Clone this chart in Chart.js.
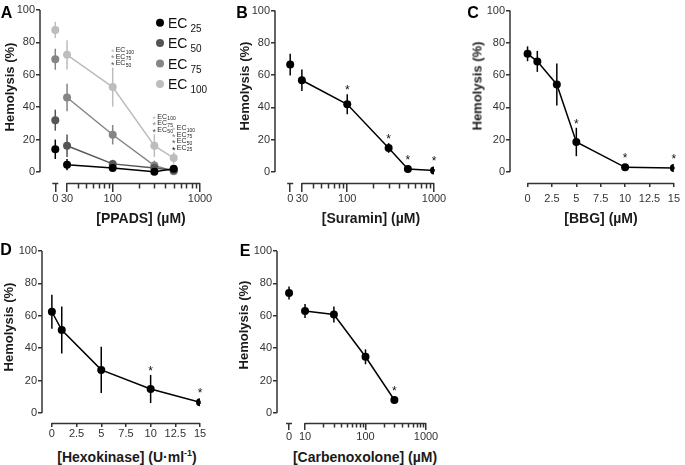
<!DOCTYPE html>
<html><head><meta charset="utf-8">
<script src="https://cdn.jsdelivr.net/npm/chart.js@4.4.0/dist/chart.umd.min.js"></script>
<style>
body{margin:0;background:#fff;}
#fig{position:relative;width:685px;height:465px;overflow:hidden;background:#fff;font-family:'Liberation Sans',Arial,Helvetica,sans-serif;color:#1a1a1a;}
canvas{position:absolute;}
.ytitle{position:absolute;font-weight:bold;font-size:13px;white-space:nowrap;transform:translate(-50%,-50%) rotate(-90deg);}
.xtitle{position:absolute;font-weight:bold;font-size:14px;white-space:nowrap;transform:translate(-50%,-50%);}
.letter{position:absolute;font-weight:bold;font-size:16px;transform:translate(-50%,-50%);color:#000;}
sup{font-size:9px;vertical-align:6px;line-height:0;}
</style></head>
<body><div id="fig">
<canvas id="cA" width="225" height="205" style="left:0;top:0"></canvas>
<canvas id="cB" width="230" height="205" style="left:225px;top:0"></canvas>
<canvas id="cC" width="230" height="205" style="left:455px;top:0"></canvas>
<canvas id="cD" width="225" height="210" style="left:0;top:230px"></canvas>
<canvas id="cE" width="230" height="210" style="left:225px;top:230px"></canvas>

<div class="letter" style="left:6.5px;top:12.5px">A</div>
<div class="letter" style="left:242px;top:12.5px">B</div>
<div class="letter" style="left:473px;top:12.5px">C</div>
<div class="letter" style="left:6px;top:250px">D</div>
<div class="letter" style="left:245px;top:251px">E</div>

<div class="ytitle" style="left:9px;top:87px">Hemolysis (%)</div>
<div class="ytitle" style="left:244px;top:86px">Hemolysis (%)</div>
<div class="ytitle" style="left:477px;top:86px">Hemolysis (%)</div>
<div class="ytitle" style="left:8px;top:327px">Hemolysis (%)</div>
<div class="ytitle" style="left:243px;top:325px">Hemolysis (%)</div>

<div class="xtitle" style="left:141px;top:218px">[PPADS] (µM)</div>
<div class="xtitle" style="left:371px;top:218px">[Suramin] (µM)</div>
<div class="xtitle" style="left:601px;top:218px">[BBG] (µM)</div>
<div class="xtitle" style="left:127px;top:457px">[Hexokinase] (U·ml<sup>-1</sup>)</div>
<div class="xtitle" style="left:365px;top:457px">[Carbenoxolone] (µM)</div>
</div>
<script>
// ---------------- DATA ----------------
const yTickVals = [0, 20, 40, 60, 80, 100];

// A: PPADS
const ppadsConc     = [0, 30, 100, 300, 500];
const ppadsEC25     = [14, 4.5, 2.5, 0.2, 2];
const ppadsEC25Err  = [6, 3.5, 1.5, 1, 1];
const ppadsEC50     = [32, 16.2, 5, 2.5, 1];
const ppadsEC50Err  = [6.5, 7, 2.5, 1.5, 1];
const ppadsEC75     = [69.6, 46, 23, 4, 0.5];
const ppadsEC75Err  = [6.5, 8.5, 6, 3, 1];
const ppadsEC100    = [87.7, 72.3, 52.4, 16.2, 8.6];
const ppadsEC100Err = [5, 9, 12, 7, 3.5];
const ppadsSeries   = ['25', '50', '75', '100'];
const ppadsSigGroups = [
  { conc: 100, series: ['50', '75', '100'] },
  { conc: 300, series: ['50', '75', '100'] },
  { conc: 500, series: ['25', '50', '75', '100'] }
];
const ppadsTicks = [0, 30, 100, 1000];

// B: Suramin
const suraminConc = [0, 30, 100, 300, 500, 1000];
const suraminHemo = [66.5, 56.8, 41.9, 14.9, 1.9, 1.0];
const suraminErr  = [6.7, 6.7, 6.2, 3, 1, 0.8];
const suraminSig  = [false, false, true, true, true, true];
const suraminTicks = [0, 30, 100, 1000];

// C: BBG
const bbgConc = [0, 1, 3, 5, 10, 15];
const bbgHemo = [73.2, 68.5, 54.2, 18.6, 2.9, 2.5];
const bbgErr  = [4.6, 6.5, 13, 8.8, 0.8, 0.8];
const bbgSig  = [false, false, false, true, true, true];
const bbgTicks = [0, 2.5, 5, 7.5, 10, 12.5, 15];

// D: Hexokinase
const hexoConc = [0, 1, 5, 10, 15];
const hexoHemo = [62.5, 51.2, 26.6, 14.8, 6.6];
const hexoErr  = [10.5, 14.5, 14.3, 8.7, 1];
const hexoSig  = [false, false, false, true, true];
const hexoTicks = [0, 2.5, 5, 7.5, 10, 12.5, 15];

// E: Carbenoxolone
const cbxConc = [0, 10, 30, 100, 300];
const cbxHemo = [74.1, 63, 60.8, 34.7, 8];
const cbxErr  = [4, 4.3, 5, 4.6, 1.5];
const cbxSig  = [false, false, false, false, true];
const cbxTicks = [0, 10, 100, 1000];

// ---------------- STYLE / HELPERS ----------------
const FONT = "'Liberation Sans', Arial, Helvetica, sans-serif";
const AXIS = '#333';
const ecColors = { '25': '#000000', '50': '#555555', '75': '#858585', '100': '#bdbdbd' };

function makeY(width, ymin) {
  return {
    type: 'linear', min: ymin, max: 100,
    afterBuildTicks: s => { s.ticks = yTickVals.map(v => ({ value: v })); },
    afterFit: s => { s.width = width; },
    ticks: { font: { family: FONT, size: 11 }, color: AXIS, padding: 1 },
    grid: { display: true, drawOnChartArea: false, drawTicks: true, tickLength: 4, color: AXIS, lineWidth: 1.5 },
    border: { display: false }
  };
}
function makeLogX(min, zeroPos, tickVals, height, tickLen, pad) {
  return {
    type: 'logarithmic', min: min, max: 1000,
    afterBuildTicks: s => { s.ticks = tickVals.map(v => ({ value: v === 0 ? zeroPos : v })); },
    afterFit: s => { s.height = height; },
    ticks: { font: { family: FONT, size: 11 }, color: AXIS, padding: pad, autoSkip: false, maxRotation: 0,
      callback: v => (v === zeroPos ? '0' : String(v)) },
    grid: { display: true, drawOnChartArea: false, drawTicks: true, tickLength: tickLen, color: AXIS, lineWidth: 1.5 },
    border: { display: false }
  };
}
function makeLinX(min, max, tickVals, height, tickLen, pad) {
  return {
    type: 'linear', min: min, max: max,
    afterBuildTicks: s => { s.ticks = tickVals.map(v => ({ value: v })); },
    afterFit: s => { s.height = height; },
    ticks: { font: { family: FONT, size: 11 }, color: AXIS, padding: pad, autoSkip: false, maxRotation: 0,
      callback: v => String(v) },
    grid: { display: true, drawOnChartArea: false, drawTicks: true, tickLength: tickLen, color: AXIS, lineWidth: 1.5 },
    border: { display: false }
  };
}
function series(conc, vals, errs, color, zeroPos, connectZero) {
  return {
    data: conc.map((c, i) => ({ x: (c === 0 && zeroPos) ? zeroPos : c, y: vals[i] })),
    errors: errs,
    borderColor: color, backgroundColor: color,
    pointBackgroundColor: color, pointBorderColor: color,
    pointRadius: 4, pointBorderWidth: 0, pointHoverRadius: 4, borderWidth: 1.5,
    tension: 0, fill: false,
    segment: connectZero ? {} : { borderColor: ctx => (ctx.p0DataIndex === 0 ? 'rgba(0,0,0,0)' : undefined) }
  };
}
function minorLog(start, end, majors) {
  const out = [];
  [1, 10, 100].forEach(d => { for (let k = 2; k <= 9; k++) { const v = k * d; if (v > start && v < end && !majors.includes(v)) out.push(v); } });
  return out;
}
function star(ctx, x, cy, size, color) {
  ctx.save();
  ctx.fillStyle = color; ctx.font = size + 'px ' + FONT;
  ctx.textAlign = 'center'; ctx.textBaseline = 'alphabetic';
  ctx.fillText('*', x, cy + size * 0.57);
  ctx.restore();
}
function ecText(ctx, x, baseY, sub, big, small, gap, drop, color) {
  ctx.save();
  ctx.fillStyle = color; ctx.textAlign = 'left'; ctx.textBaseline = 'alphabetic';
  ctx.font = big + 'px ' + FONT;
  ctx.fillText('EC', x, baseY);
  const w = ctx.measureText('EC').width;
  ctx.font = small + 'px ' + FONT;
  ctx.fillText(sub, x + w + gap, baseY + drop);
  ctx.restore();
}

function makeDecor(cfg) {
  return {
    id: 'decor',
    beforeDatasetsDraw(chart) {
      const ctx = chart.ctx, ys = chart.scales.y;
      chart.data.datasets.forEach((ds, di) => {
        const meta = chart.getDatasetMeta(di);
        ctx.save(); ctx.strokeStyle = ds.borderColor; ctx.lineWidth = 1.5;
        meta.data.forEach((pt, j) => {
          const v = ds.data[j].y, e = ds.errors[j];
          ctx.beginPath();
          ctx.moveTo(pt.x, ys.getPixelForValue(v + e));
          ctx.lineTo(pt.x, ys.getPixelForValue(Math.max(v - e, ys.min)));
          ctx.stroke();
        });
        ctx.restore();
      });
    },
    afterDraw(chart) {
      const ctx = chart.ctx, xs = chart.scales.x, ys = chart.scales.y, ca = chart.chartArea;
      ctx.save();
      ctx.strokeStyle = AXIS; ctx.lineWidth = 1.5; ctx.lineCap = 'butt';
      // y axis line (0..100)
      ctx.beginPath(); ctx.moveTo(ca.left, ys.getPixelForValue(0)); ctx.lineTo(ca.left, ys.getPixelForValue(100)); ctx.stroke();
      // x axis line
      const yb = Math.round(ca.bottom) + 0.5;
      ctx.beginPath(); ctx.moveTo(xs.getPixelForValue(cfg.axisStart), yb); ctx.lineTo(xs.getPixelForValue(cfg.axisEnd), yb); ctx.stroke();
      if (cfg.zeroPos) {
        const zx = xs.getPixelForValue(cfg.zeroPos);
        ctx.beginPath(); ctx.moveTo(zx - 3, yb); ctx.lineTo(zx + 3, yb); ctx.stroke();
      }
      (cfg.minor || []).forEach(v => {
        const px = Math.round(xs.getPixelForValue(v)) + 0.5;
        ctx.beginPath(); ctx.moveTo(px, yb); ctx.lineTo(px, yb + cfg.minorLen); ctx.stroke();
      });
      ctx.restore();

      // significance asterisks (single-series panels)
      if (cfg.sig) {
        const ds = chart.data.datasets[0], meta = chart.getDatasetMeta(0);
        cfg.sig.forEach((s, j) => {
          if (!s) return;
          const pt = meta.data[j];
          const errTop = ys.getPixelForValue(ds.data[j].y + ds.errors[j]);
          const cy = Math.min(errTop, pt.y - 5) - 7;
          star(ctx, pt.x, cy, 12, '#111');
        });
      }
      // PPADS group labels
      if (cfg.groups) {
        cfg.groups.forEach(g => {
          const xp = xs.getPixelForValue(g.conc);
          let top = Infinity;
          chart.data.datasets.forEach(ds => {
            ds.data.forEach((d, j) => { if (d.x === g.conc) top = Math.min(top, ys.getPixelForValue(d.y + ds.errors[j])); });
          });
          g.series.forEach((sname, k) => {
            const cy = top - 5 - k * 6.5;
            star(ctx, xp, cy, 9, ecColors[sname]);
            ecText(ctx, xp + 3, cy + 2.5, sname, 7, 5, 0.3, 1.5, '#222');
          });
        });
      }
      // PPADS legend
      if (cfg.legend) {
        cfg.legend.forEach((sname, k) => {
          const lx = ca.right - 40, ly = ca.top + 12.7 + k * 20.4;
          ctx.save(); ctx.fillStyle = ecColors[sname];
          ctx.beginPath(); ctx.arc(lx, ly, 4, 0, Math.PI * 2); ctx.fill(); ctx.restore();
          ecText(ctx, lx + 8, ly + 5.3, sname, 14, 10, 3, 4, '#111');
        });
      }
    }
  };
}

function baseOptions(pad, xScale, yScale) {
  return {
    responsive: false, animation: false, devicePixelRatio: 1,
    layout: { padding: pad, autoPadding: false },
    plugins: { legend: { display: false }, tooltip: { enabled: false } },
    events: [],
    scales: { x: xScale, y: yScale }
  };
}

// ---------------- PANEL A ----------------
const zeroA = 22;
new Chart(document.getElementById('cA'), {
  type: 'line',
  data: { datasets: [
    series(ppadsConc, ppadsEC25, ppadsEC25Err, ecColors['25'], zeroA, false),
    series(ppadsConc, ppadsEC50, ppadsEC50Err, ecColors['50'], zeroA, false),
    series(ppadsConc, ppadsEC75, ppadsEC75Err, ecColors['75'], zeroA, false),
    series(ppadsConc, ppadsEC100, ppadsEC100Err, ecColors['100'], zeroA, false)
  ] },
  options: baseOptions({ top: 10, right: 25, left: 0, bottom: 0 },
    makeLogX(14.7, zeroA, ppadsTicks, 22, 9, 0), makeY(40, -6.8)),
  plugins: [makeDecor({ axisStart: 30, axisEnd: 1000, zeroPos: zeroA, minor: minorLog(30, 1000, ppadsTicks), minorLen: 5,
    groups: ppadsSigGroups, legend: ppadsSeries })]
});

// ---------------- PANEL B ----------------
const zeroB = 22;
new Chart(document.getElementById('cB'), {
  type: 'line',
  data: { datasets: [ series(suraminConc, suraminHemo, suraminErr, '#000', zeroB, false) ] },
  options: baseOptions({ top: 10.5, right: 21, left: 0, bottom: 0 },
    makeLogX(14.7, zeroB, suraminTicks, 22, 9, 0), makeY(50, -6.8)),
  plugins: [makeDecor({ axisStart: 30, axisEnd: 1000, zeroPos: zeroB, minor: minorLog(30, 1000, suraminTicks), minorLen: 5, sig: suraminSig })]
});

// ---------------- PANEL C ----------------
new Chart(document.getElementById('cC'), {
  type: 'line',
  data: { datasets: [ series(bbgConc, bbgHemo, bbgErr, '#000', null, true) ] },
  options: baseOptions({ top: 10.5, right: 11, left: 0, bottom: 0 },
    makeLinX(-1.8, 15, bbgTicks, 22, 4, 5), makeY(55, -6.8)),
  plugins: [makeDecor({ axisStart: 0, axisEnd: 15, sig: bbgSig })]
});

// ---------------- PANEL D ----------------
new Chart(document.getElementById('cD'), {
  type: 'line',
  data: { datasets: [ series(hexoConc, hexoHemo, hexoErr, '#000', null, true) ] },
  options: baseOptions({ top: 21, right: 25, left: 0, bottom: 0 },
    makeLinX(-1.0, 15, hexoTicks, 17, 4, 0), makeY(42, -6.2)),
  plugins: [makeDecor({ axisStart: 0, axisEnd: 15, sig: hexoSig })]
});

// ---------------- PANEL E ----------------
const zeroE = 5.44;
new Chart(document.getElementById('cE'), {
  type: 'line',
  data: { datasets: [ series(cbxConc, cbxHemo, cbxErr, '#000', zeroE, false) ] },
  options: baseOptions({ top: 21, right: 29, left: 0, bottom: 0 },
    makeLogX(3.44, zeroE, cbxTicks, 17, 7, 0), makeY(52, -6.2)),
  plugins: [makeDecor({ axisStart: 10, axisEnd: 1000, zeroPos: zeroE, minor: minorLog(10, 1000, cbxTicks), minorLen: 4, sig: cbxSig })]
});
</script>
</body></html>
